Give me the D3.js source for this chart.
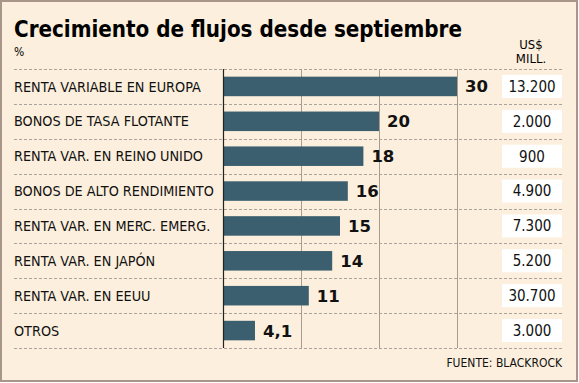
<!DOCTYPE html>
<html><head><meta charset="utf-8">
<script src="https://cdn.jsdelivr.net/npm/d3@7/dist/d3.min.js"></script>
<style>
html,body{margin:0;padding:0;background:#fff;}
svg{display:block;}
</style></head>
<body>
<svg id="c" width="579" height="383"></svg>
<script>
const categories = ["RENTA VARIABLE EN EUROPA","BONOS DE TASA FLOTANTE","RENTA VAR. EN REINO UNIDO","BONOS DE ALTO RENDIMIENTO","RENTA VAR. EN MERC. EMERG.","RENTA VAR. EN JAPÓN","RENTA VAR. EN EEUU","OTROS"];
const growthPct = [30,20,18,16,15,14,11,4.1];
const growthLabels = ["30","20","18","16","15","14","11","4,1"];
const amountLabels = ["13.200","2.000","900","4.900","7.300","5.200","30.700","3.000"];
const xTicks = [0,10,20,30];

const W=579,H=383;
const svg=d3.select("#c");
const font="'DejaVu Sans Condensed','DejaVu Sans',sans-serif";
svg.append("rect").attr("x",1).attr("y",1).attr("width",W-3).attr("height",H-3)
  .attr("fill","#fcefdd").attr("stroke","#a8968a").attr("stroke-width",2);

const x=d3.scaleLinear().domain([0,30]).range([223,457]);
const y=d3.scaleBand().domain(categories).range([69,348]).paddingInner(0.44).paddingOuter(0.22);
const rowH=(348-69)/categories.length;

svg.append("text").attr("x",14).attr("y",37).attr("font-family",font).attr("font-weight","bold")
  .attr("font-size",23).attr("fill","#000").attr("textLength",448).attr("lengthAdjust","spacingAndGlyphs")
  .text("Crecimiento de flujos desde septiembre");
svg.append("text").attr("x",14).attr("y",56).attr("font-family",font).attr("font-size",12).text("%");
svg.append("text").attr("x",531).attr("y",49).attr("text-anchor","middle").attr("font-family",font).attr("font-size",13).text("US$");
svg.append("text").attr("x",531).attr("y",63).attr("text-anchor","middle").attr("font-family",font).attr("font-size",13).text("MILL.");

// dashed row separators
const seps=d3.range(categories.length+1).map(i=>69+i*rowH);
svg.selectAll("line.sep").data(seps).enter().append("line")
  .attr("x1",14).attr("x2",563).attr("y1",d=>Math.round(d)+0.5).attr("y2",d=>Math.round(d)+0.5)
  .attr("stroke","#a9a39b").attr("stroke-width",1).attr("stroke-dasharray","3,2");

// gridlines
svg.selectAll("line.grid").data(xTicks.slice(1)).enter().append("line")
  .attr("x1",d=>Math.round(x(d))+0.5).attr("x2",d=>Math.round(x(d))+0.5)
  .attr("y1",69).attr("y2",348).attr("stroke","#a69c92").attr("stroke-width",1);

// bars
svg.selectAll("rect.bar").data(categories).enter().append("rect")
  .attr("x",x(0)).attr("y",d=>y(d)).attr("height",y.bandwidth())
  .attr("width",(d,i)=>x(growthPct[i])-x(0)).attr("fill","#3b5f6f");

// axis line
svg.append("line").attr("x1",223.5).attr("x2",223.5).attr("y1",69).attr("y2",348)
  .attr("stroke","#222").attr("stroke-width",1.2);

// category labels
svg.selectAll("text.cat").data(categories).enter().append("text")
  .attr("x",14).attr("y",d=>y(d)+y.bandwidth()/2).attr("dy","0.36em")
  .attr("font-family",font).attr("font-size",14.3).attr("fill","#111").text(d=>d);

// value labels
svg.selectAll("text.val").data(categories).enter().append("text")
  .attr("x",(d,i)=>x(growthPct[i])+8).attr("y",d=>y(d)+y.bandwidth()/2).attr("dy","0.36em")
  .attr("font-family","'DejaVu Sans',sans-serif").attr("font-weight","bold").attr("font-size",16.5).attr("fill","#111")
  .text((d,i)=>growthLabels[i]);

// amount boxes
svg.selectAll("rect.box").data(categories).enter().append("rect")
  .attr("x",502).attr("y",d=>y(d)+y.bandwidth()/2-11.5).attr("width",60).attr("height",23).attr("fill","#fff");
svg.selectAll("text.amt").data(categories).enter().append("text")
  .attr("x",532).attr("y",d=>y(d)+y.bandwidth()/2).attr("dy","0.36em").attr("text-anchor","middle")
  .attr("font-family",font).attr("font-size",15).attr("fill","#111").text((d,i)=>amountLabels[i]);

svg.append("text").attr("x",562).attr("y",367).attr("text-anchor","end").attr("font-family",font)
  .attr("font-size",12).attr("fill","#111").text("FUENTE: BLACKROCK");
</script>
</body></html>
